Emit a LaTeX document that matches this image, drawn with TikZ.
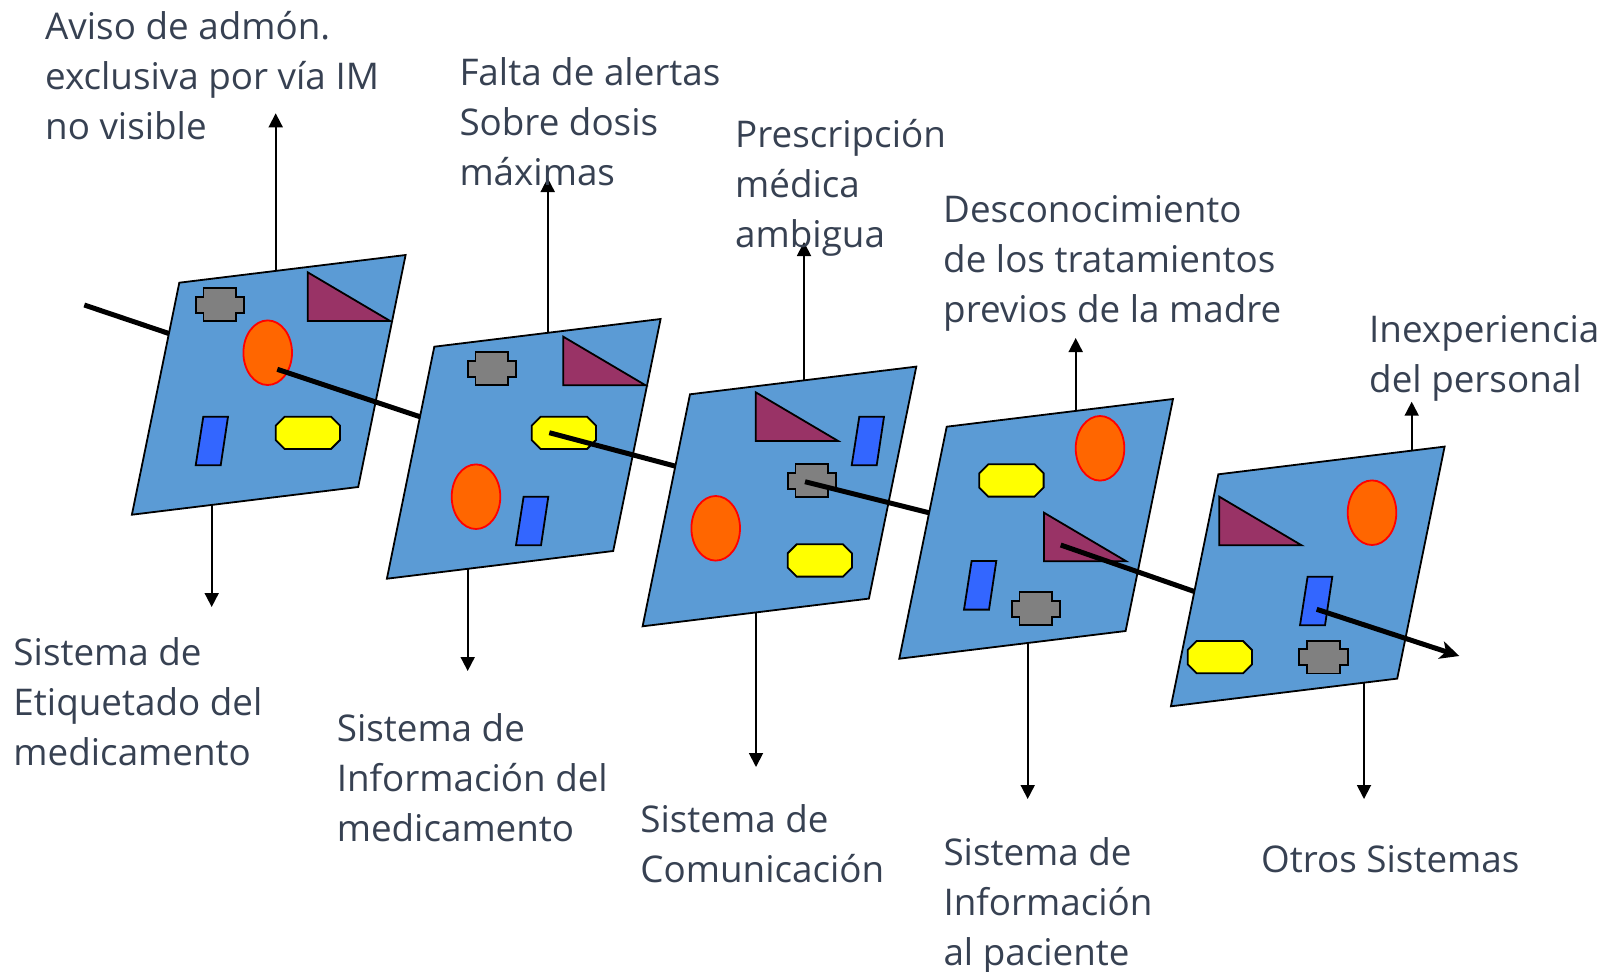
\documentclass[tikz,border=0pt]{standalone}
\usepackage{fontspec}
\setmainfont{Open Sans}
\usetikzlibrary{arrows.meta}
\definecolor{panelblue}{RGB}{91,155,213}
\definecolor{trifill}{RGB}{153,51,102}
\definecolor{crossgray}{RGB}{128,128,128}
\definecolor{octyellow}{RGB}{255,255,0}
\definecolor{parablue}{RGB}{51,102,255}
\definecolor{ellorange}{RGB}{255,102,0}
\definecolor{txt}{RGB}{55,65,82}
\tikzset{
  panelst/.style={draw=black, line width=1.8bp, fill=panelblue, line join=miter},
  crossst/.style={draw=black, line width=1.8bp, fill=crossgray},
  octst/.style={draw=black, line width=1.8bp, fill=octyellow},
  parast/.style={draw=black, line width=1.8bp, fill=parablue},
  trist/.style={draw=black, line width=1.8bp, fill=trifill},
  ellst/.style={draw=red, line width=1.8bp, fill=ellorange},
  mainline/.style={draw=black, line width=5bp},
  mainarrow/.style={mainline, -{Stealth[length=19bp,width=18bp,inset=5bp]}},
  varrow/.style={draw=black, line width=1.8bp, -{Triangle[length=14bp,width=14bp]}},
  lbl/.style={anchor=base west, align=left, inner sep=0pt, text=txt,
    font=\fontsize{36.8bp}{50bp}\selectfont},
}
\newcommand\shpPanel[2]{%
  \draw[panelst] (#1,#2) -- (#1+226.3,#2-27.7) -- (#1+178.9,#2+204.3) -- (#1-47.4,#2+232) -- cycle;}
\newcommand\shpCross[2]{%
  \draw[crossst] (#1+7.8,#2) -- ++(32.7,0) -- ++(0,8.3) -- ++(7.8,0) -- ++(0,16.1) -- ++(-7.8,0) -- ++(0,8.3) -- ++(-32.7,0) -- ++(0,-8.3) -- ++(-7.8,0) -- ++(0,-16.1) -- ++(7.8,0) -- cycle;}
\newcommand\shpOct[2]{%
  \draw[octst] (#1+9,#2) -- (#1+55.3,#2) -- (#1+64.3,#2+9) -- (#1+64.3,#2+23.3) -- (#1+55.3,#2+32.3) -- (#1+9,#2+32.3) -- (#1,#2+23.3) -- (#1,#2+9) -- cycle;}
\newcommand\shpPara[2]{%
  \draw[parast] (#1+7.6,#2) -- (#1+32.3,#2) -- (#1+25,#2+48.6) -- (#1,#2+48.6) -- cycle;}
\newcommand\shpTri[2]{%
  \draw[trist] (#1,#2) -- (#1,#2+48.6) -- (#1+82.3,#2+48.6) -- cycle;}
\newcommand\shpEll[2]{%
  \draw[ellst] (#1,#2) ellipse [x radius=24.3, y radius=32.3];}
\begin{document}
\begin{tikzpicture}[x=1bp, y=-1bp]
\useasboundingbox (0,0) rectangle (1614,971);

% main line points
\coordinate (m0) at (84.3,305);
\coordinate (e0) at (200,344);
\coordinate (m1) at (277.3,369.3);
\coordinate (e1) at (460,430);
\coordinate (m2) at (549.3,432.7);
\coordinate (e2) at (720,478);
\coordinate (m3) at (805,481.7);
\coordinate (e3) at (970,523);
\coordinate (m4) at (1060.7,545);
\coordinate (e4) at (1240,607.4);
\coordinate (m5) at (1316.7,609.3);
\coordinate (e5) at (1459.3,656);

% vertical arrow coordinates
\coordinate (u1s) at (275.7,320); \coordinate (u1e) at (275.7,113.3);
\coordinate (d1s) at (211.7,450); \coordinate (d1e) at (211.7,607);
\coordinate (u2s) at (547.7,380); \coordinate (u2e) at (547.7,178);
\coordinate (d2s) at (467.7,520); \coordinate (d2e) at (467.7,671);
\coordinate (u3s) at (804,420);   \coordinate (u3e) at (804,242);
\coordinate (d3s) at (756,560);   \coordinate (d3e) at (756,767);
\coordinate (u4s) at (1075.7,450);\coordinate (u4e) at (1075.7,338);
\coordinate (d4s) at (1027.7,600);\coordinate (d4e) at (1027.7,799);
\coordinate (u5s) at (1411.7,500);\coordinate (u5e) at (1411.7,401.7);
\coordinate (d5s) at (1364,650);  \coordinate (d5e) at (1364,799);

% panel 1
\draw[mainline] (m0) -- (e0);
\draw[varrow] (u1s) -- (u1e);
\draw[varrow] (d1s) -- (d1e);
\shpPanel{179.3}{282.7}
\shpCross{195.7}{288.3}
\shpTri{307.7}{272.3}
\shpEll{267.7}{352.7}
\shpPara{195.7}{416.7}
\shpOct{275.7}{416.7}
\draw[mainline] (m1) -- (e1);

% panel 2
\draw[varrow] (u2s) -- (u2e);
\draw[varrow] (d2s) -- (d2e);
\shpPanel{434.3}{346.7}
\shpCross{467.7}{352.3}
\shpTri{563.3}{336.7}
\shpOct{531.7}{416.7}
\shpEll{476}{496.7}
\shpPara{516}{496.7}
\draw[mainline] (m2) -- (e2);

% panel 3
\draw[varrow] (u3s) -- (u3e);
\draw[varrow] (d3s) -- (d3e);
\shpPanel{690}{394.3}
\shpTri{755.7}{392.3}
\shpPara{851.7}{416.7}
\shpCross{787.7}{464.3}
\shpEll{715.7}{528.3}
\shpOct{787.7}{544.3}
\draw[mainline] (m3) -- (e3);

% panel 4
\draw[varrow] (u4s) -- (u4e);
\draw[varrow] (d4s) -- (d4e);
\shpPanel{946.7}{426.7}
\shpEll{1100}{448.3}
\shpOct{979.3}{464.3}
\shpTri{1044}{512.7}
\shpPara{964}{561}
\shpCross{1011.7}{592.3}
\draw[mainline] (m4) -- (e4);

% panel 5
\draw[varrow] (u5s) -- (u5e);
\draw[varrow] (d5s) -- (d5e);
\shpPanel{1218.3}{474.3}
\shpTri{1219.3}{496.7}
\shpEll{1372}{512.7}
\shpPara{1300}{576.7}
\shpOct{1187.7}{641}
\shpCross{1299.3}{640.7}
\draw[mainarrow] (m5) -- (e5);

% labels (anchored at the baseline of their last line)
\node[lbl] (t1) at (45,139.3) {Aviso de admón.\\exclusiva por vía IM\\no visible};
\node[lbl] (t2) at (459.3,185) {Falta de alertas\\Sobre dosis\\máximas};
\node[lbl] (t3) at (735,247) {Prescripción\\médica\\ambigua};
\node[lbl] (t4) at (943,322) {Desconocimiento\\de los tratamientos\\previos de la madre};
\node[lbl] (t5) at (1369,392.5) {Inexperiencia\\del personal};
\node[lbl] (b1) at (13.3,765) {Sistema de\\Etiquetado del\\medicamento};
\node[lbl] (b2) at (336.6,841.7) {Sistema de\\Información del\\medicamento};
\node[lbl] (b3) at (640.2,882.3) {Sistema de\\Comunicación};
\node[lbl] (b4) at (943.3,965) {Sistema de\\Información\\al paciente};
\node[lbl] (b5) at (1261,872.5) {Otros Sistemas};
\end{tikzpicture}
\end{document}
